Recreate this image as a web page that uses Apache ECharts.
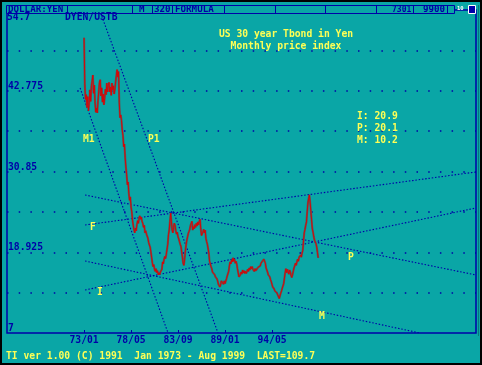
<!DOCTYPE html>
<html><head><meta charset="utf-8">
<script src="https://cdn.jsdelivr.net/npm/echarts@6/dist/echarts.min.js"></script>
<style>html,body{margin:0;padding:0;background:#000;}#c{width:482px;height:365px;}</style>
</head><body><div id="c"></div>
<script>
// Monthly price index, Jan 1973 .. Aug 1999 (month 0 = 73/01)
const price = [
50.6,43.6,41.5,42.2,40.3,41.9,39.8,41.0,42.9,41.2,
43.5,44.2,45.1,42.4,43.6,41.0,39.6,40.2,39.5,41.3,
42.7,44.0,44.4,42.0,43.2,41.1,42.3,40.7,41.6,43.0,
42.2,43.9,42.6,43.6,44.0,42.6,43.3,42.1,43.9,42.9,
43.5,42.3,43.0,44.1,45.0,45.9,44.8,45.6,41.0,38.8,
39.2,38.4,37.0,36.2,34.5,34.9,32.9,31.5,30.4,28.9,
29.3,27.6,26.6,27.1,25.6,24.9,
23.7,22.9,22.3,21.8,22.5,22.1,23.0,23.6,23.2,24.0,
24.3,23.8,24.1,23.5,23.2,22.6,22.9,21.8,22.1,21.6,
21.8,21.0,20.4,20.0,19.7,19.0,18.2,17.4,16.8,17.1,
16.4,16.1,16.5,15.9,16.2,15.6,15.9,15.6,16.0,15.8,
16.4,17.5,17.2,17.9,18.3,18.0,18.6,18.8,20.1,21.5,
22.2,23.5,
24.7,23.5,22.2,21.8,22.6,23.2,22.9,22.1,21.6,21.9,
21.2,20.9,20.5,20.1,19.8,19.6,18.2,17.3,17.0,17.9,
19.1,20.0,20.7,21.2,21.7,22.0,22.3,22.9,23.1,23.5,
22.2,22.7,22.4,23.0,22.6,23.2,22.8,23.4,23.0,23.5,
23.8,22.4,21.4,21.2,21.9,22.3,21.8,22.2,21.0,20.5,
20.1,19.9,18.8,17.6,17.2,16.8,16.5,16.0,15.8,16.2,
15.6,15.3,15.5,15.0,14.7,14.2,14.4,
13.8,14.1,14.7,14.9,14.6,14.2,14.7,14.3,14.5,15.0,
15.4,15.2,16.1,16.9,17.5,17.2,17.8,17.5,18.1,17.6,
17.9,17.3,17.6,17.2,16.5,15.9,15.3,15.1,15.6,16.0,
15.7,16.3,15.9,16.2,15.8,16.1,15.8,16.0,16.4,16.1,
16.6,16.3,16.8,16.5,16.8,16.4,16.6,16.1,16.5,16.2,
16.4,16.3,16.7,16.5,16.8,16.9,17.3,17.1,17.6,17.4,
17.9,18.1,17.3,16.6,16.3,16.0,15.6,15.4,15.3,14.9,
14.6,14.2,13.8,13.9,13.5,13.2,13.4,13.0,12.9,12.6,
12.4,
12.1,12.3,12.9,13.2,13.6,13.4,14.3,15.1,15.9,16.5,
15.9,16.4,16.2,15.7,16.3,16.0,15.5,15.2,15.6,16.1,
16.6,16.9,17.3,17.0,17.5,17.9,17.6,18.2,18.0,18.5,
18.2,18.8,19.2,20.6,21.8,22.3,22.9,23.4,24.9,26.2,
26.9,27.4,26.3,25.0,23.7,22.4,21.9,21.2,20.7,20.9,
20.2,19.7,18.9,18.1
];
// trend lines: [month, value] endpoints
const lineM1 = [[-5.4, 43.18], [114.4, 7.0]];
const lineP1 = [[21.0, 54.7], [182.5, 7.0]];
const lineF  = [[1.4, 22.95], [533.8, 30.78]];
const lineP  = [[1.4, 27.38], [533.8, 15.57]];
const lineI  = [[1.4, 13.35], [533.8, 25.46]];
const lineM  = [[1.4, 17.63], [457.5, 7.0]];
const xTickMonths = [0, 64, 128, 192, 256];
const xTickLabels = ['73/01', '78/05', '83/09', '89/01', '94/05'];
const yTickLabels = ['7', '', '18.925', '', '30.85', '', '42.775', '', '54.7'];
const infoLines = ['I: 20.9', 'P: 20.1', 'M: 10.2'];
const titleLines = ['US 30 year Tbond in Yen', 'Monthly price index'];
const footer = 'TI ver 1.00 (C) 1991  Jan 1973 - Aug 1999  LAST=109.7';

const TEAL = '#0aa6a6', BLUE = '#0000a8', YEL = '#ffff55';
const FONT = '"DejaVu Sans Mono", monospace';
const f = (s) => 'bold ' + s + 'px ' + FONT;

const chart = echarts.init(document.getElementById('c'), null, {renderer: 'canvas'});
const trend = (d) => ({type: 'line', data: d, symbol: 'none', silent: true, clip: true, z: 3,
  lineStyle: {color: BLUE, width: 1.1, type: [1.5, 1.8]}});

const txt = (text, x, y, fill, size, align) => ({type: 'text', z: 20,
  style: {text, x, y, fill, font: f(size || 9.7), align: align || 'left', verticalAlign: 'middle'}});
const vline = (x, y1, y2, col, w) => ({type: 'line', z: 19,
  shape: {x1: x, y1: y1, x2: x, y2: y2}, style: {stroke: col || BLUE, lineWidth: w || 1}});

const graphics = [
  {type: 'rect', z: 18, shape: {x: 6.5, y: 5.5, width: 448, height: 8}, style: {fill: TEAL, stroke: BLUE, lineWidth: 1}},
  vline(67.5, 5.5, 13.5), vline(132.5, 5.5, 13.5), vline(152.5, 5.5, 13.5), vline(172.5, 5.5, 13.5),
  vline(224.5, 5.5, 13.5), vline(275.5, 5.5, 13.5), vline(325.5, 5.5, 13.5), vline(376.5, 5.5, 13.5),
  vline(413.5, 5.5, 13.5), vline(447.5, 5.5, 13.5),
  txt('DOLLAR:YEN', 8, 9.8, BLUE, 9.2),
  txt('M', 139, 9.8, BLUE, 9.2),
  txt('320', 154, 9.8, BLUE, 9.2),
  txt('FORMULA', 175, 9.8, BLUE, 9.2),
  txt('7301', 392, 9.8, BLUE, 8),
  txt('9900', 423, 9.8, BLUE, 9.2),
  txt('10', 457, 8.5, '#ffffff', 5.5),
  {type: 'rect', z: 19, shape: {x: 468.5, y: 5.5, width: 7, height: 8}, style: {fill: BLUE, stroke: '#ffffff', lineWidth: 1}},
  txt(yTickLabels[8], 7, 17.5, BLUE),
  txt('DYEN/USTB', 65, 17.5, BLUE),
  txt(titleLines[0], 286, 34, YEL, 9.7, 'center'),
  txt(titleLines[1], 286, 46, YEL, 9.7, 'center'),
  txt(infoLines[0], 357, 116, YEL),
  txt(infoLines[1], 357, 128, YEL),
  txt(infoLines[2], 357, 140, YEL),
  txt('M1', 83, 139, YEL),
  txt('P1', 148, 139, YEL),
  txt('F', 90, 227, YEL),
  txt('I', 97, 292, YEL),
  txt('P', 348, 257, YEL),
  txt('M', 319, 316, YEL),
  txt(footer, 6, 356, YEL),
  vline(478.5, 5, 336, '#057a7a', 1),
  {type: 'rect', z: 21, shape: {x: 0, y: 0, width: 482, height: 365}, style: {fill: 'none', stroke: '#000', lineWidth: 4}}
];

chart.setOption({
  backgroundColor: TEAL,
  animation: false,
  grid: {left: 7, right: 6, top: 10, bottom: 32, show: true, borderColor: BLUE, borderWidth: 1.5, backgroundColor: 'transparent'},
  xAxis: {type: 'value', min: -105, max: 534, axisLine: {show: false},
    splitLine: {show: false},
    axisTick: {show: true, inside: true, length: 3, lineStyle: {color: BLUE}, customValues: xTickMonths},
    axisLabel: {customValues: xTickMonths, color: BLUE, fontFamily: FONT, fontWeight: 'bold', fontSize: 9.7, margin: 2,
      formatter: (v) => xTickLabels[xTickMonths.indexOf(v)] || ''}},
  yAxis: [
    {type: 'value', min: 7, max: 54.7, show: false},
    {type: 'value', min: 0, max: 8, interval: 1, position: 'left',
      axisLine: {show: false}, axisTick: {show: false},
      splitLine: {show: true, showMinLine: false, showMaxLine: false, lineStyle: {color: BLUE, width: 1.5, type: [1.5, 10.2]}},
      axisLabel: {inside: true, margin: 1, verticalAlign: 'bottom', lineHeight: 9, showMaxLabel: false,
        color: BLUE, fontFamily: FONT, fontWeight: 'bold', fontSize: 9.7,
        formatter: (v) => yTickLabels[v] || ''}}
  ],
  graphic: graphics,
  series: [
    trend(lineM1), trend(lineP1), trend(lineF), trend(lineP), trend(lineI), trend(lineM),
    {type: 'line', data: price.map((v, i) => [i, v]), symbol: 'none', silent: true, z: 4,
      lineStyle: {color: '#5a5a5a', width: 2.1}},
    {type: 'line', data: price.map((v, i) => [i, v]), symbol: 'none', silent: true, z: 5,
      lineStyle: {color: '#e00000', width: 0.9}}
  ]
});
</script></body></html>
